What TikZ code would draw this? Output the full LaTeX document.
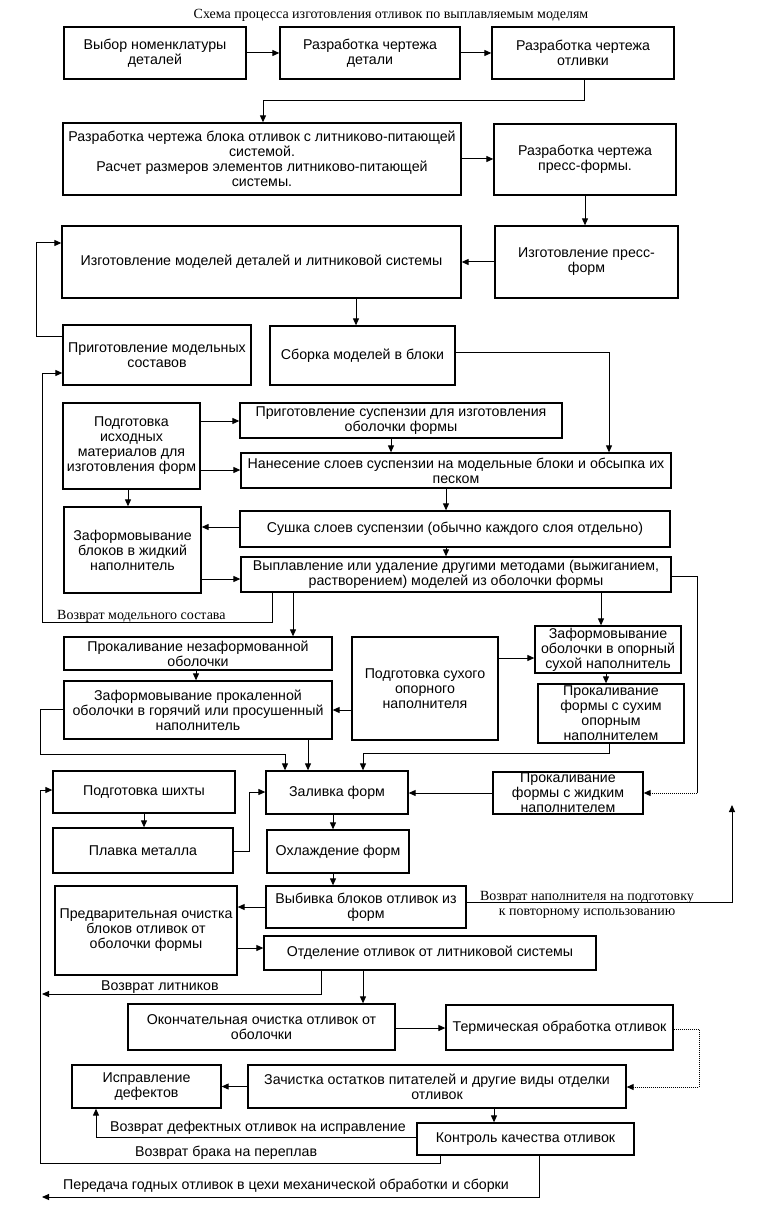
\documentclass[tikz,border=0pt]{standalone}
\usepackage{fontspec}
\setmainfont{Liberation Sans}
\newfontfamily\serifru{Liberation Serif}
\usetikzlibrary{arrows.meta}
\begin{document}
\begin{tikzpicture}[x=1pt,y=-1pt,
  box/.style={draw, line width=1.3pt, align=center, inner sep=1pt, font=\fontsize{14.2}{15}\selectfont},
  arr/.style={line width=1pt, -{Triangle[length=7pt,width=6pt]}},
  ln/.style={line width=1pt},
  lbl/.style={font=\serifru\fontsize{14}{15}\selectfont, inner sep=0pt, align=center},
  slbl/.style={font=\fontsize{14.2}{15}\selectfont, inner sep=0pt}]
\fill[white] (0,0) rectangle (760,1230);
\useasboundingbox (0,0) rectangle (760,1230);

\node[lbl] (title) at (391,15) {Схема процесса изготовления отливок по выплавляемым моделям};

\node[box, minimum width=182pt, minimum height=52pt] (A1) at (155,53) {Выбор номенклатуры\\деталей};
\node[box, minimum width=180pt, minimum height=52pt] (A2) at (370,53) {Разработка чертежа\\детали};
\node[box, minimum width=182pt, minimum height=52pt] (A3) at (583,53) {Разработка чертежа\\отливки};

\node[box, minimum width=398pt, minimum height=72pt] (B1) at (262,159) {Разработка чертежа блока отливок с литниково-питающей\\системой.\\Расчет размеров элементов литниково-питающей\\системы.};
\node[box, minimum width=182pt, minimum height=71pt] (B2) at (585,159.5) {Разработка чертежа\\пресс-формы.};

\node[box, minimum width=399pt, minimum height=72pt] (C1) at (261.5,262) {Изготовление моделей деталей и литниковой системы};
\node[box, minimum width=183pt, minimum height=72pt] (C2) at (586.5,262) {Изготовление пресс-\\форм};

\node[box, minimum width=188pt, minimum height=60pt] (D1) at (157,355) {Приготовление модельных\\составов};
\node[box, minimum width=185pt, minimum height=59pt] (D2) at (362.5,355.5) {Сборка моделей в блоки};

\node[box, minimum width=137pt, minimum height=86pt] (E1) at (131.5,446) {Подготовка\\исходных\\материалов для\\изготовления форм};
\node[box, minimum width=322pt, minimum height=35pt] (E2) at (401,420.5) {Приготовление суспензии для изготовления\\оболочки формы};
\node[box, minimum width=430pt, minimum height=35pt] (F2) at (456,470.5) {Нанесение слоев суспензии на модельные блоки и обсыпка их\\песком};

\node[box, minimum width=137pt, minimum height=86pt] (G1) at (132.5,550) {Заформовывание\\блоков в жидкий\\наполнитель};
\node[box, minimum width=430pt, minimum height=36pt] (G2) at (455,529) {Сушка слоев суспензии (обычно каждого слоя отдельно)};
\node[box, minimum width=430pt, minimum height=35pt] (H) at (456,574.5) {Выплавление или удаление другими методами (выжиганием,\\растворением) моделей из оболочки формы};

\node[box, minimum width=268pt, minimum height=33pt] (I1) at (198,653.5) {Прокаливание незаформованной\\оболочки};
\node[box, minimum width=268pt, minimum height=58pt] (I2) at (198,710) {Заформовывание прокаленной\\оболочки в горячий или просушенный\\наполнитель};
\node[box, minimum width=146pt, minimum height=103pt] (Mid) at (425,688.5) {Подготовка сухого\\опорного\\наполнителя};
\node[box, minimum width=146pt, minimum height=47pt] (J1) at (608,649.5) {Заформовывание\\оболочки в опорный\\сухой наполнитель};
\node[box, minimum width=146pt, minimum height=59pt] (J2) at (611,713.5) {Прокаливание\\формы с сухим\\опорным\\наполнителем};

\node[box, minimum width=182pt, minimum height=42pt] (K1) at (144,792) {Подготовка шихты};
\node[box, minimum width=142pt, minimum height=43pt] (K2) at (337,792.5) {Заливка форм};
\node[box, minimum width=150pt, minimum height=42pt] (K3) at (568,793) {Прокаливание\\формы с жидким\\наполнителем};

\node[box, minimum width=180pt, minimum height=45pt] (L1) at (143,850.5) {Плавка металла};
\node[box, minimum width=142pt, minimum height=43pt] (L2) at (338,851.5) {Охлаждение форм};

\node[box, minimum width=182pt, minimum height=89pt] (M1) at (146,930.5) {Предварительная очистка\\блоков отливок от\\оболочки формы};
\node[box, minimum width=200pt, minimum height=42pt] (M2) at (366,907) {Выбивка блоков отливок из\\форм};
\node[box, minimum width=332pt, minimum height=34pt] (N2) at (430,953) {Отделение отливок от литниковой системы};

\node[box, minimum width=267pt, minimum height=46pt] (O1) at (261.5,1027) {Окончательная очистка отливок от\\оболочки};
\node[box, minimum width=227pt, minimum height=45pt] (O2) at (559.5,1027.5) {Термическая обработка отливок};

\node[box, minimum width=149pt, minimum height=43pt] (P1) at (146.5,1086.5) {Исправление\\дефектов};
\node[box, minimum width=378pt, minimum height=43pt] (P2) at (437,1086.5) {Зачистка остатков питателей и другие виды отделки\\отливок};
\node[box, minimum width=217pt, minimum height=32pt] (Q) at (525.5,1139) {Контроль качества отливок};

% free ends
\coordinate (up) at (732,805);
\coordinate (lit) at (42,994);
\coordinate (out) at (42,1197);
\coordinate (hk) at (697,793);

% connectors
\draw[arr] (A1) -- (A2);
\draw[arr] (A2) -- (A3);
\draw[arr] (A3.south -| 584,0) -- ++(0,21) -| (B1.north -| 263,0);
\draw[arr] (B1.east) -- (B1.east -| B2.west);
\draw[arr] (B2.south) -- (B2.south |- C2.north);
\draw[arr] (C2.west) -- (C2.west -| C1.east);
\draw[arr] (C1.south -| 356,0) -- (D2.north -| 356,0);
\draw[arr] (D1.west |- 0,336) -- (36.5,336) |- (C1.west |- 0,243);
\draw[arr] (D2.east |- 0,352) -| (F2.north -| 609,0);
\draw[arr] (E1.east |- 0,421) -- (E2.west |- 0,421);
\draw[arr] (E1.east |- 0,470) -- (F2.west |- 0,470);
\draw[arr] (E2.south -| 391,0) -- (F2.north -| 391,0);
\draw[arr] (F2.south -| 446,0) -- (G2.north -| 446,0);
\draw[arr] (E1.south -| 128,0) -- (G1.north -| 128,0);
\draw[arr] (G2.west |- 0,527) -- (G1.east |- 0,527);
\draw[arr] (G2.south -| 446,0) -- (H.north -| 446,0);
\draw[arr] (G1.east |- 0,579) -- (H.west |- 0,579);
\draw[arr] (H.south -| 272,0) |- (42.5,622) |- (D1.west |- 0,373);
\draw[arr] (H.south -| 293,0) -- (I1.north -| 293,0);
\draw[arr] (H.south -| 601,0) -- (J1.north -| 601,0);
\draw[ln] (H.east |- 0,576) -| (hk);
\draw[arr, densely dotted] (hk) -- (K3.east |- hk);
\draw[arr] (I1.south -| 196,0) -- (I2.north -| 196,0);
\draw[arr] (Mid.west |- 0,710) -- (I2.east |- 0,710);
\draw[arr] (Mid.east |- 0,658) -- (J1.west |- 0,658);
\draw[arr] (J1.south -| 606,0) -- (J2.north -| 606,0);
\draw[arr] (J2.south -| 609,0) |- (363,753) -- (K2.north -| 363,0);
\draw[arr] (I2.west |- 0,709) -| (40,754) -| (K2.north -| 285,0);
\draw[arr] (I2.south -| 308,0) -- (K2.north -| 308,0);
\draw[arr] (K3.west) -- (K3.west -| K2.east);
\draw[arr] (K1.south -| 144,0) -- (L1.north -| 144,0);
\draw[arr] (L1.east |- 0,851) -| (249,792) -- (K2.west |- 0,792);
\draw[arr] (K2.south -| 333,0) -- (L2.north -| 333,0);
\draw[arr] (L2.south -| 333,0) -- (M2.north -| 333,0);
\draw[arr] (M2.east |- 0,902) -| (up);
\draw[arr] (M2.west |- 0,907) -- (M1.east |- 0,907);
\draw[arr] (M1.east |- 0,948) -- (N2.west |- 0,948);
\draw[arr] (N2.south -| 321,0) |- (lit);
\draw[arr] (N2.south -| 363,0) -- (O1.north -| 363,0);
\draw[arr] (O1.east |- 0,1028) -- (O2.west |- 0,1028);
\draw[arr, densely dotted] (O2.east |- 0,1029) -| (699,1087) -- (P2.east |- 0,1087);
\draw[arr] (P2.west) -- (P2.west -| P1.east);
\draw[arr] (P2.south -| 494,0) -- (Q.north -| 494,0);
\draw[arr] (Q.west |- 0,1137) -| (P1.south -| 96,0);
\draw[arr] (Q.south -| 440,0) |- (40,1163) |- (K1.west |- 0,790);
\draw[arr] (Q.south -| 539,0) |- (out);

% labels
\node[lbl, anchor=west] (l1) at (57,616) {Возврат модельного состава};
\node[lbl] (l2) at (587,905) {Возврат наполнителя на подготовку\\к повторному использованию};
\node[slbl, anchor=west] (l3) at (101,987) {Возврат литников};
\node[slbl, anchor=west] (l4) at (110,1128) {Возврат дефектных отливок на исправление};
\node[slbl, anchor=west] (l5) at (135,1153) {Возврат брака на переплав};
\node[slbl, anchor=west] (l6) at (63,1186) {Передача годных отливок в цехи механической обработки и сборки};
\end{tikzpicture}
\end{document}
